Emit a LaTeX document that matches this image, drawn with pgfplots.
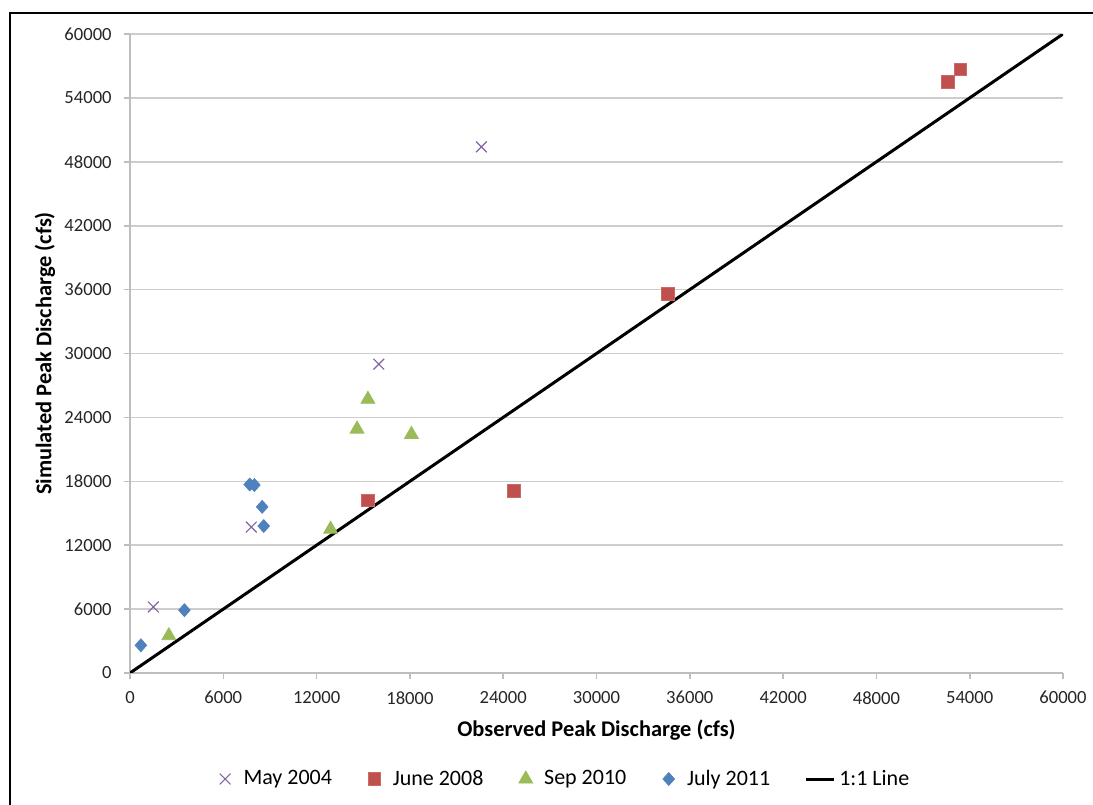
\documentclass[border=0pt]{standalone}
\usepackage{pgfplots}
\pgfplotsset{compat=1.18}
\usepackage{fontspec}
\setmainfont{Carlito}
\definecolor{cMay}{RGB}{128,100,162}
\definecolor{cJun}{RGB}{192,80,77}
\definecolor{cSep}{RGB}{155,187,89}
\definecolor{cJul}{RGB}{79,129,189}
\definecolor{axgray}{RGB}{190,190,190}
\definecolor{gridgray}{RGB}{205,205,205}
\pgfplotsset{
  mlegend/.style={legend image code/.code={%
    \path (-4bp,0bp) (7bp,0bp);
    \draw[##1] plot[only marks] coordinates {(0bp,0bp)};}},
  llegend/.style={legend image code/.code={%
    \draw[##1] (0bp,0bp) -- (14bp,0bp);}},
}
\begin{document}
\fontsize{9.5bp}{11bp}\selectfont
\begin{tikzpicture}
\draw[black, line width=1.2bp] (5bp,-3bp) -- (5bp,396bp) -- (550bp,396bp);
\begin{axis}[
  at={(65bp,66bp)}, anchor=south west, scale only axis,
  width=466.5bp, height=319.5bp,
  xmin=0, xmax=60000, ymin=0, ymax=60000,
  xtick={0,6000,...,60000}, ytick={0,6000,...,60000},
  scaled ticks=false,
  /pgf/number format/assume math mode=true,
  /pgf/number format/set thousands separator={},
  axis x line=bottom, axis y line=left,
  axis line style={-, color=axgray, line width=0.8bp},
  ymajorgrids, grid style={color=gridgray, line width=0.8bp},
  tick style={color=axgray, line width=0.8bp},
  tick align=outside, major tick length=3bp,
  ticklabel style={font=\fontsize{9.3bp}{11bp}\selectfont, text=black!85},
  yticklabel style={anchor=east, inner sep=0pt, xshift=-6bp},
  xticklabel style={anchor=north, inner sep=0pt, yshift=-6bp},
  xlabel={\bfseries Observed Peak Discharge (cfs)},
  ylabel={\bfseries Simulated Peak Discharge (cfs)},
  label style={font=\fontsize{11.2bp}{13bp}\selectfont},
  xlabel style={at={(axis description cs:0.5,-0.0892)}, anchor=center},
  ylabel style={at={(axis description cs:-0.0911,0.5)}, anchor=center},
  legend style={at={(0.4662,-0.1659)}, anchor=center, draw=none, fill=none,
    legend columns=-1, font=\fontsize{11bp}{13bp}\selectfont,
    /tikz/every even column/.append style={column sep=15bp},
    /tikz/every odd column/.append style={column sep=0bp}},
  legend cell align=left,
]
\addplot[only marks, mark=x, mark size=3.8bp, mark options={line width=0.6bp}, color=cMay, mlegend]
  coordinates {(1500,6200) (7800,13700) (16000,29000) (22600,49400)};
\addlegendentry{May 2004}
\addplot[only marks, mark=square*, mark size=3.1bp, color=cJun, mark options={draw=cJun!85!white}, mlegend]
  coordinates {(15300,16200) (24700,17100) (34600,35600) (52600,55500) (53400,56700)};
\addlegendentry{June 2008}
\addplot[only marks, mark=triangle*, mark size=4bp, color=cSep, mlegend]
  coordinates {(2500,3500) (12900,13500) (15300,25700) (14600,22900) (18100,22400)};
\addlegendentry{Sep 2010}
\addplot[only marks, mark=diamond*, mark size=3.2bp, mark options={xscale=1.2}, color=cJul, mlegend]
  coordinates {(700,2600) (3500,5900) (7700,17700) (8000,17650) (8500,15600) (8600,13800)};
\addlegendentry{July 2011}
\addplot[black, line width=1.5bp, no marks, llegend]
  coordinates {(0,0) (60000,60000)};
\addlegendentry{1:1 Line}
\end{axis}
\pgfresetboundingbox
\useasboundingbox (0bp,0bp) rectangle (546.5bp,402.5bp);
\end{tikzpicture}
\end{document}
